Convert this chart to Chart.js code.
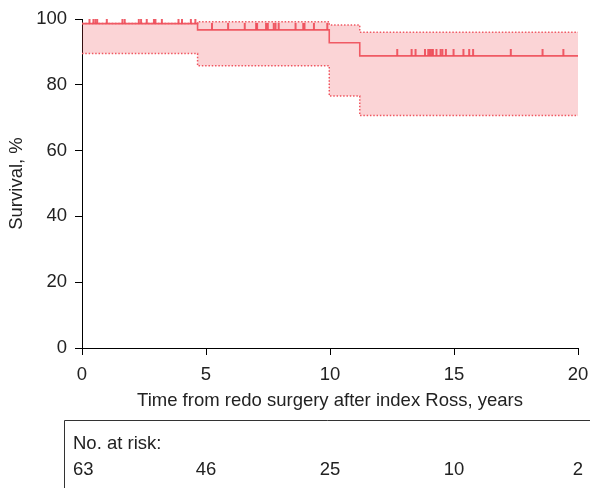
<!DOCTYPE html>
<html>
<head>
<meta charset="utf-8">
<script src="https://cdn.jsdelivr.net/npm/chart.js@4"></script>
<style>
  body { margin: 0; background: #fff; }
  #wrap { width: 590px; height: 488px; }
</style>
</head>
<body>
<div id="wrap"><canvas id="kmChart" width="590" height="488"></canvas></div>
<script>
// ================= DATA =================

// Kaplan-Meier step points (years, %)
const kmTimes = [0, 4.66, 9.97, 11.2, 20];
const kmSurv = [98.6, 96.7, 92.8, 88.8, 88.8];
const ciLower = [89.5, 85.8, 76.6, 70.7, 70.7];
const ciUpper = [98.6, 99.2, 98.2, 96.0, 96.0];

// censored observations (years)
const censorTimes = [
  0.30, 0.46, 0.54, 0.61, 1.0, 1.63, 1.72, 2.29, 2.38, 2.61, 2.90, 2.96, 3.22,
  3.89, 4.03, 4.39, 4.57,
  5.24, 5.89, 6.56, 7.02, 7.06, 7.42, 7.49, 7.73, 7.80, 7.93, 8.61, 8.92, 8.97,
  9.35, 9.89,
  12.71, 13.29, 13.45, 13.83, 13.96, 14.03, 14.10, 14.15, 14.29, 14.46, 14.53,
  14.67, 14.98, 15.38, 15.61, 15.77, 17.29, 18.57, 19.41
];

// number at risk table
const riskTimes = [0, 5, 10, 15, 20];
const riskCounts = [63, 46, 25, 10, 2];

const xTicks = [0, 5, 10, 15, 20];
const yTicks = [0, 20, 40, 60, 80, 100];

// ================= HELPERS =================

const RED = "#f05a64";
const FONT = { family: "'Liberation Sans', Arial, sans-serif", size: 18.5 };
const TEXT = "#222";

function toPoints(xs, ys) {
  return xs.map((x, i) => ({ x: x, y: ys[i] }));
}

function survivalAt(t) {
  let v = kmSurv[0];
  kmTimes.forEach((kt, i) => { if (kt <= t) v = kmSurv[i]; });
  return v;
}

// small vertical tick sitting on top of the curve
function censorMark() {
  const c = document.createElement("canvas");
  c.width = 4;
  c.height = 14;
  const g = c.getContext("2d");
  g.fillStyle = "#ee4c58";
  g.fillRect(1.1, 0, 1.8, 7);
  return c;
}

// ================= RISK TABLE =================

const riskTable = {
  id: "riskTable",
  afterDraw(chart) {
    const ctx = chart.ctx;
    const xs = chart.scales.x;
    const top = chart.chartArea.bottom + 72;
    const left = 64;

    ctx.save();
    ctx.strokeStyle = "#333";
    ctx.lineWidth = 1;
    ctx.beginPath();
    ctx.moveTo(left + 0.5, chart.height + 5);
    ctx.lineTo(left + 0.5, top + 0.5);
    ctx.lineTo(chart.width + 5, top + 0.5);
    ctx.stroke();

    ctx.fillStyle = TEXT;
    ctx.font = FONT.size + "px " + FONT.family;
    ctx.textBaseline = "alphabetic";
    ctx.textAlign = "left";
    ctx.fillText("No. at risk:", left + 9, top + 29);

    riskCounts.forEach((n, i) => {
      if (i === 0) {
        ctx.textAlign = "left";
        ctx.fillText(String(n), left + 9, top + 55);
      } else {
        ctx.textAlign = "center";
        ctx.fillText(String(n), xs.getPixelForValue(riskTimes[i]), top + 55);
      }
    });
    ctx.restore();
  }
};

// ================= CHART =================

new Chart(document.getElementById("kmChart"), {
  type: "line",
  data: {
    datasets: [
      {
        type: "scatter",
        data: censorTimes.map(t => ({ x: t, y: survivalAt(t) })),
        pointStyle: censorMark(),
        pointRadius: 4,
        showLine: false
      },
      {
        data: toPoints(kmTimes, kmSurv),
        borderColor: RED,
        borderWidth: 1.6,
        stepped: "before",
        pointRadius: 0,
        fill: false
      },
      {
        data: toPoints(kmTimes, ciUpper),
        borderColor: RED,
        borderWidth: 1.5,
        borderDash: [1.5, 1.8],
        stepped: "before",
        pointRadius: 0,
        fill: "+1",
        backgroundColor: "rgba(235, 60, 70, 0.22)"
      },
      {
        data: toPoints(kmTimes, ciLower),
        borderColor: RED,
        borderWidth: 1.5,
        borderDash: [1.5, 1.8],
        stepped: "before",
        pointRadius: 0,
        fill: false
      }
    ]
  },
  options: {
    responsive: false,
    animation: false,
    events: [],
    layout: { padding: { top: 19, right: 12, bottom: 72, left: 0 } },
    plugins: {
      legend: { display: false },
      tooltip: { enabled: false }
    },
    scales: {
      x: {
        type: "linear",
        min: 0,
        max: 20,
        afterFit(s) {
          s.height = 68;
          s.paddingLeft = 0;
          s.paddingRight = 0;
        },
        afterBuildTicks(s) { s.ticks = xTicks.map(v => ({ value: v })); },
        grid: { drawOnChartArea: false, drawTicks: true, tickLength: 7, color: "#000" },
        border: { display: true, color: "#000", width: 1 },
        ticks: { font: FONT, color: TEXT, padding: 9, maxRotation: 0 },
        title: {
          display: true,
          text: "Time from redo surgery after index Ross, years",
          font: FONT,
          color: TEXT,
          padding: { top: 4, bottom: 4 }
        }
      },
      y: {
        min: 0,
        max: 100,
        afterFit(s) {
          s.width = 82;
          s.paddingTop = 0;
          s.paddingBottom = 0;
        },
        afterBuildTicks(s) { s.ticks = yTicks.map(v => ({ value: v })); },
        grid: { drawOnChartArea: false, drawTicks: true, tickLength: 7, color: "#000" },
        border: { display: true, color: "#000", width: 1 },
        ticks: { font: FONT, color: TEXT, padding: 8 },
        title: {
          display: true,
          text: "Survival, %",
          font: FONT,
          color: TEXT,
          padding: { top: 6, bottom: 0 }
        }
      }
    }
  },
  plugins: [riskTable]
});
</script>
</body>
</html>
